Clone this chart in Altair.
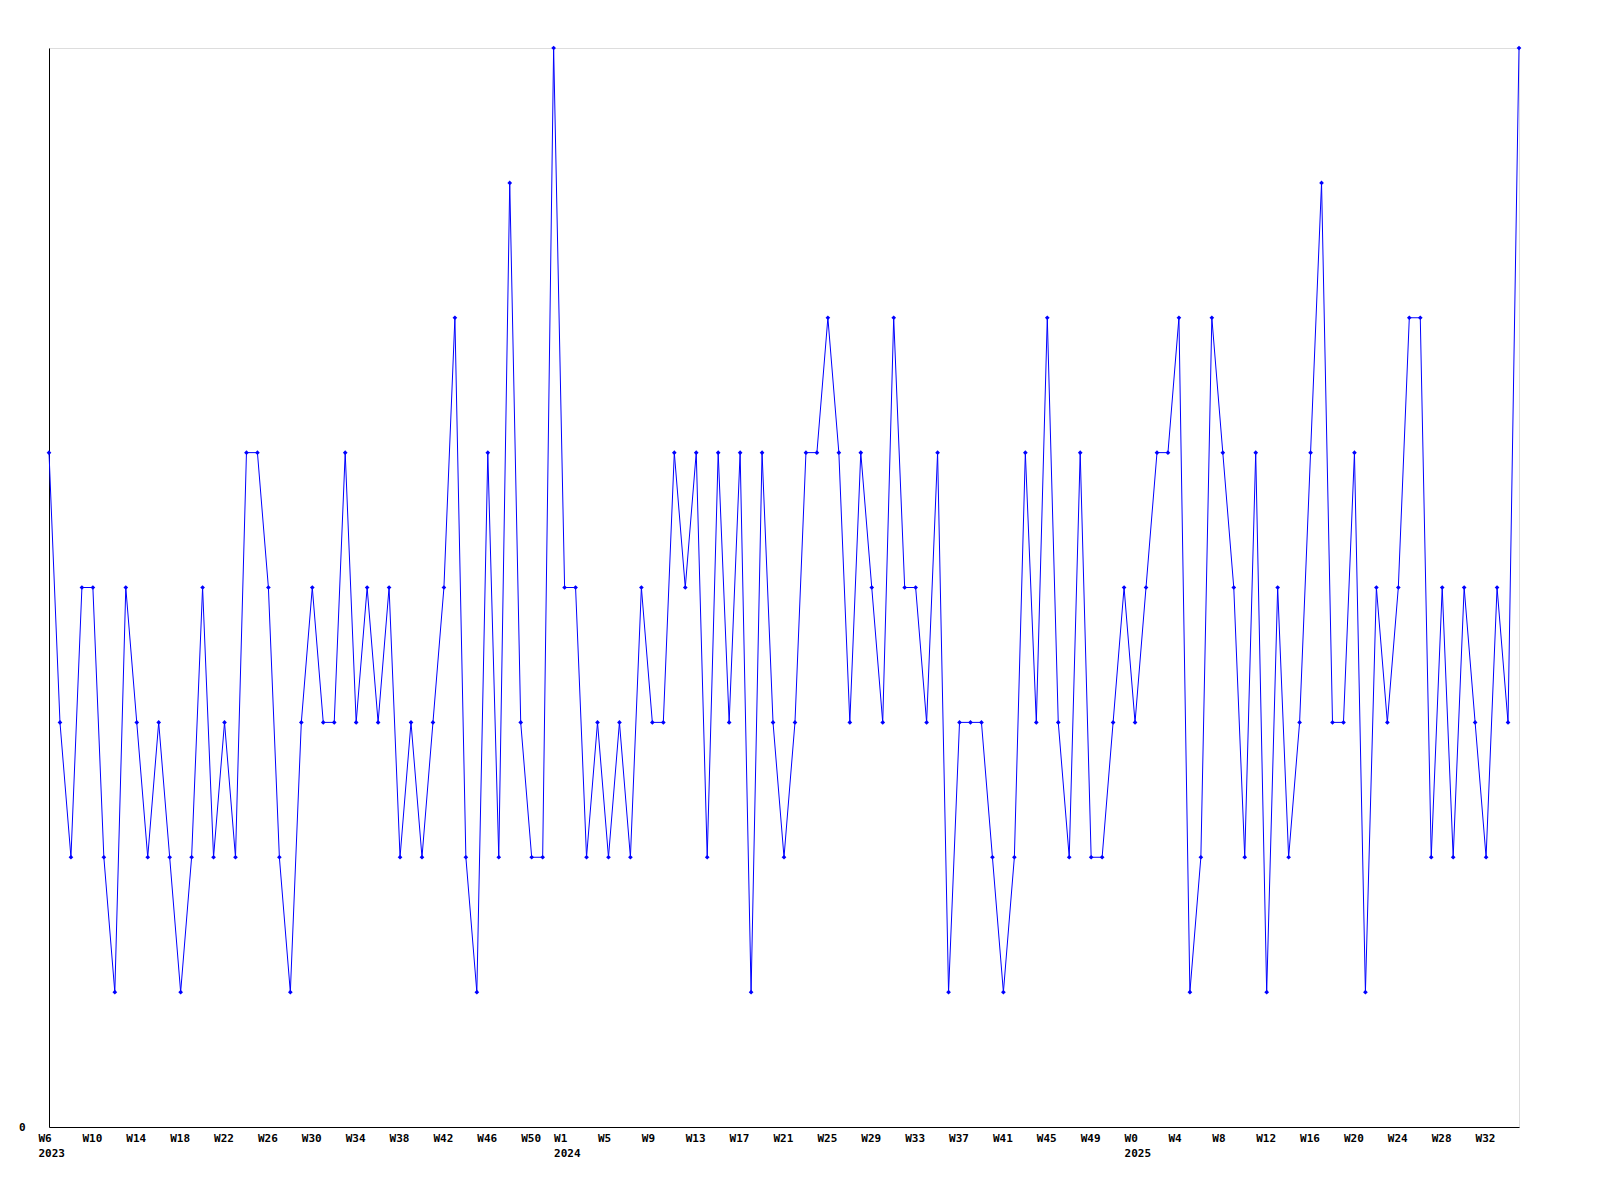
import altair as alt
import pandas as pd

# Weekly counts, in order (2023-W06 .. 2025-W35)
values = [5, 3, 2, 4, 4, 2, 1, 4, 3, 2, 3, 2, 1, 2, 4, 2, 3, 2, 5, 5, 4, 2, 1,
          3, 4, 3, 3, 5, 3, 4, 3, 4, 2, 3, 2, 3, 4, 6, 2, 1, 5, 2, 7, 3, 2,
          2, 8, 4, 4, 2, 3, 2, 3, 2, 4, 3, 3, 5, 4, 5, 2, 5, 3, 5, 1, 5, 3, 2,
          3, 5, 5, 6, 5, 3, 5, 4, 3, 6, 4, 4, 3, 5, 1, 3, 3, 3, 2, 1, 2, 5,
          3, 6, 3, 2, 5, 2, 2, 3, 4, 3, 4, 5, 5, 6, 1, 2, 6, 5, 4, 2, 5, 1,
          4, 2, 3, 5, 7, 3, 3, 5, 1, 4, 3, 4, 6, 6, 2, 4, 2, 4, 3, 2, 4, 3, 8]

# week buckets per year: (year, first week, last week)
year_segments = [(2023, 6, 52), (2024, 1, 52), (2025, 0, 35)]

# labelled weeks per year
tick_weeks = {
    2023: [6, 10, 14, 18, 22, 26, 30, 34, 38, 42, 46, 50],
    2024: [1, 5, 9, 13, 17, 21, 25, 29, 33, 37, 41, 45, 49],
    2025: [0, 4, 8, 12, 16, 20, 24, 28, 32],
}

years, weeks = [], []
for y, w0, w1 in year_segments:
    for w in range(w0, w1 + 1):
        years.append(y)
        weeks.append(w)

n = len(values)
df = pd.DataFrame({"i": list(range(n)), "value": values,
                   "year": years[:n], "week": weeks[:n]})

tick_idx = []
label_arr = [""] * n
for i, (y, w) in enumerate(zip(years[:n], weeks[:n])):
    if w in tick_weeks[y]:
        tick_idx.append(i)
        first_of_year = (w == tick_weeks[y][0])
        label_arr[i] = f"W{w}|{y}" if first_of_year else f"W{w}"

js_arr = "[" + ",".join("'" + s + "'" for s in label_arr) + "]"
label_expr = f"split({js_arr}[datum.value], '|')"

FONT = "DejaVu Sans Mono"

x = alt.X("i:Q",
          scale=alt.Scale(domain=[0, n - 1], nice=False, zero=False),
          axis=alt.Axis(values=tick_idx, labelExpr=label_expr, title=None,
                        ticks=False, grid=False, labelOverlap=False,
                        labelAlign="left", labelBaseline="top",
                        labelOffset=-11, labelPadding=5,
                        labelFont=FONT, labelFontWeight="bold", labelFontSize=11,
                        labelLineHeight=15, labelColor="black",
                        domainColor="black", domainWidth=1,
                        labelFlush=False, labelBound=False))
y = alt.Y("value:Q",
          scale=alt.Scale(domain=[0, 8], nice=False, zero=True),
          axis=alt.Axis(values=[0], title=None, ticks=False, grid=False,
                        labelPadding=24, labelFont=FONT, labelFontWeight="bold",
                        labelFontSize=11, labelColor="black",
                        domainColor="black", domainWidth=1))

base = alt.Chart(df)
line = base.mark_line(color="#0000ff", strokeWidth=1).encode(x=x, y=y)
pts = base.mark_point(shape="diamond", filled=True, color="#0000ff",
                      size=22, opacity=1).encode(x=x, y=y)

chart = (line + pts).properties(
    width=1470, height=1079,
    autosize=alt.AutoSizeParams(type="none"),
    padding={"left": 41, "top": 40, "right": 20, "bottom": 45},
).configure_view(strokeWidth=0, strokeOpacity=0).configure(background="white")

chart.save("out.html", embed_options={"renderer": "svg", "actions": False})
